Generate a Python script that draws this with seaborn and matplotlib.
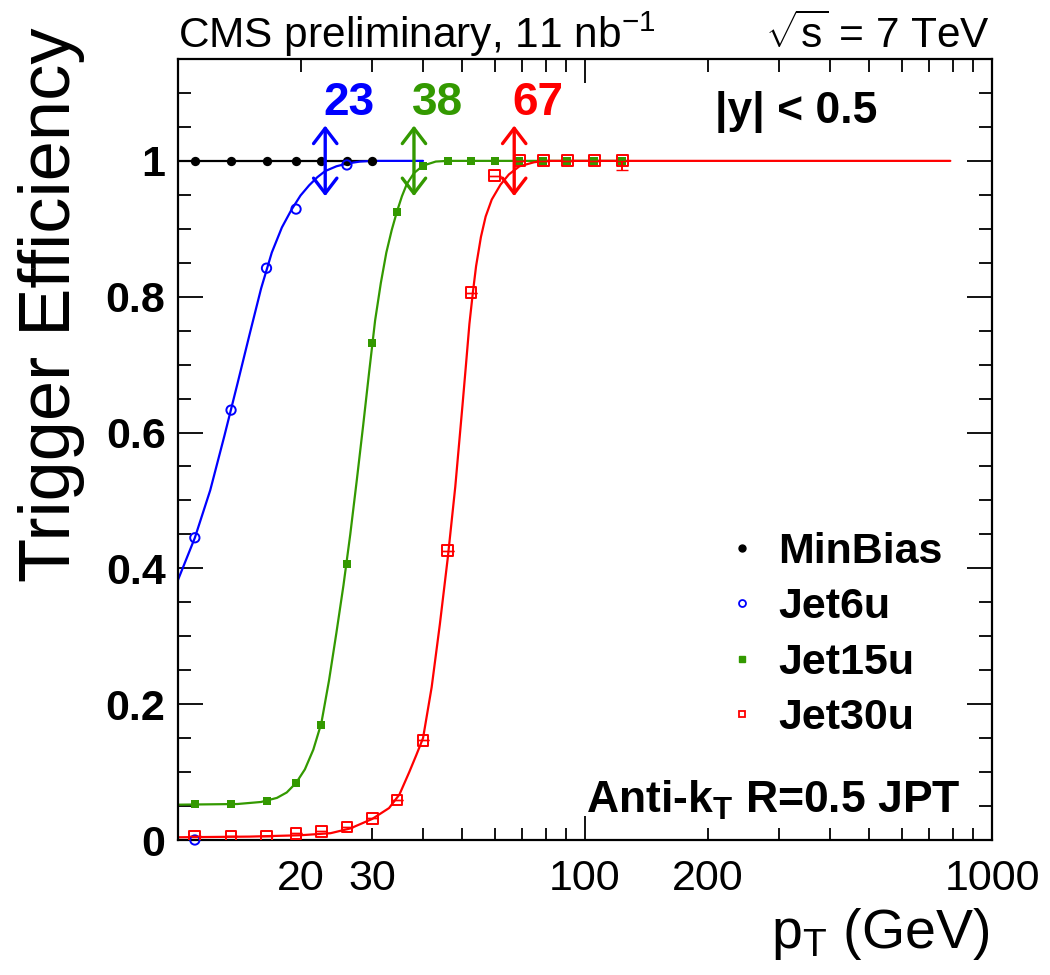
import matplotlib
matplotlib.use('Agg')
import matplotlib.pyplot as plt
from matplotlib.lines import Line2D
import seaborn as sns

# values
pt_bins = [11, 13.5, 16.5, 19.5, 22.5, 26, 30, 34.5, 40, 46, 52.5, 60, 69, 79, 90.5, 105.5, 123.5]

minbias_pt = [11, 13.5, 16.5, 19.5, 22.5, 26, 30]
minbias_eff = [1, 1, 1, 1, 1, 1, 1]

jet6u_pt = [11, 11, 13.5, 16.5, 19.5, 26]
jet6u_eff = [0.0, 0.445, 0.633, 0.842, 0.929, 0.994]

jet15u_pt = pt_bins
jet15u_eff = [0.053, 0.053, 0.057, 0.084, 0.169, 0.406, 0.732, 0.925, 0.993,
              1, 1, 1, 1, 1, 1, 1, 1]

jet30u_pt = pt_bins
jet30u_eff = [0.006, 0.006, 0.006, 0.010, 0.013, 0.019, 0.032, 0.059, 0.147,
              0.426, 0.806, 0.978, 1, 1, 1, 1, 1]
jet30u_err_lo = [0, 0, 0, 0, 0, 0, 0, 0, 0, 0, 0, 0, 0, 0, 0, 0, 0.014]
jet30u_err_hi = [0, 0, 0, 0, 0, 0, 0, 0, 0, 0, 0, 0, 0, 0, 0, 0, 0]

# fit curves
minbias_fit_pt = [10, 30]
minbias_fit_eff = [1, 1]

jet6u_fit_pt = [10.0, 11.0, 12.0, 13.0, 14.0, 15.0, 16.0, 17.0, 18.0, 19.0, 20.0, 21.0,
                22.0, 23.0, 24.5, 26.0, 28.0, 30.0, 40.0]
jet6u_fit_eff = [0.383, 0.445, 0.515, 0.595, 0.672, 0.745, 0.812, 0.865, 0.902, 0.928, 0.949,
                 0.964, 0.976, 0.985, 0.992, 0.996, 0.999, 1.0, 1.0]

jet15u_fit_pt = [10, 14, 16, 17.5, 18.5, 19.5, 20.5, 21.5, 22.5, 23.5, 24.5, 25.5, 26.5, 27.5,
                 28.5, 29.5, 30.5, 31.5, 32.5, 33.5, 34.5, 35.5, 36.5, 38, 40, 43, 46, 125]
jet15u_fit_eff = [0.052, 0.053, 0.056, 0.062, 0.070, 0.084, 0.104, 0.133, 0.172, 0.235, 0.305,
                  0.375, 0.45, 0.53, 0.61, 0.69, 0.765, 0.82, 0.865, 0.898, 0.925, 0.948,
                  0.966, 0.982, 0.993, 0.999, 1.0, 1.0]

jet30u_fit_pt = [10, 15, 20, 23.7, 26.5, 30, 33, 35, 37, 38.5, 40, 42, 44, 46, 48, 50, 51, 52,
                 53, 54, 55.5, 57, 59, 62, 65, 69, 75, 80, 790]
jet30u_fit_eff = [0.004, 0.005, 0.007, 0.010, 0.017, 0.031, 0.047, 0.067, 0.100, 0.125, 0.150,
                  0.225, 0.318, 0.415, 0.52, 0.64, 0.70, 0.76, 0.805, 0.845, 0.888, 0.918,
                  0.943, 0.965, 0.980, 0.992, 0.998, 1.0, 1.0]

thresholds = [23, 38, 67]
threshold_labels = ['23', '38', '67']

blue = '#0000ff'
green = '#339900'
red = '#ff0000'
threshold_colors = [blue, green, red]

sns.set_style('white')
plt.rcParams['font.family'] = ['Liberation Sans', 'DejaVu Sans']
plt.rcParams['mathtext.fontset'] = 'custom'
plt.rcParams['mathtext.rm'] = 'Liberation Sans'
plt.rcParams['mathtext.bf'] = 'Liberation Sans:bold'
plt.rcParams['mathtext.it'] = 'Liberation Sans:italic'
plt.rcParams['text.color'] = 'black'
plt.rcParams['xtick.color'] = 'black'
plt.rcParams['ytick.color'] = 'black'
plt.rcParams['axes.labelcolor'] = 'black'

fig, ax = plt.subplots(figsize=(10.5, 9.75), dpi=100)
fig.subplots_adjust(left=178/1050, right=992/1050, bottom=1-840/975, top=1-59/975)
ax.set_xscale('log')

# fit curves
sns.lineplot(x=minbias_fit_pt, y=minbias_fit_eff, color='black', lw=1.6, ax=ax)
sns.lineplot(x=jet6u_fit_pt, y=jet6u_fit_eff, color=blue, lw=1.6, sort=False, estimator=None, ax=ax)
sns.lineplot(x=jet15u_fit_pt, y=jet15u_fit_eff, color=green, lw=1.6, sort=False, estimator=None, ax=ax)
sns.lineplot(x=jet30u_fit_pt, y=jet30u_fit_eff, color=red, lw=1.6, sort=False, estimator=None, ax=ax)

# data points
sns.scatterplot(x=minbias_pt, y=minbias_eff, marker='o', s=45, color='black',
                edgecolor='black', linewidth=0, zorder=3, ax=ax)
sns.scatterplot(x=jet6u_pt, y=jet6u_eff, marker='o', s=45, facecolor='none',
                edgecolor=blue, linewidth=1.4, zorder=3, clip_on=False, ax=ax)
sns.scatterplot(x=jet15u_pt, y=jet15u_eff, marker='s', s=40, color=green,
                edgecolor=green, linewidth=0, zorder=3, ax=ax)
sns.scatterplot(x=jet30u_pt, y=jet30u_eff, marker='s', s=60, facecolor='none',
                edgecolor=red, linewidth=1.4, zorder=4, ax=ax)
ax.errorbar(jet30u_pt, jet30u_eff, yerr=[jet30u_err_lo, jet30u_err_hi], fmt='none',
            ecolor=red, elinewidth=1.4, capsize=4, zorder=4)

# threshold arrows
for thr, lab, col in zip(thresholds, threshold_labels, threshold_colors):
    ax.annotate('', xy=(thr, 0.948), xytext=(thr, 1.052),
                arrowprops=dict(arrowstyle='<->, head_length=0.55, head_width=0.42',
                                color=col, lw=2.4, shrinkA=0, shrinkB=0, mutation_scale=20),
                zorder=5)
    ax.text(thr * 0.99, 1.085, lab, color=col, fontsize=33, fontweight='bold',
            ha='left', va='center')

ax.set_xlim(10, 1000)
ax.set_ylim(0, 1.15)

ax.set_xticks([10, 100, 1000], labels=['', '100', '1000'])
minor_x = [20, 30, 40, 50, 60, 70, 80, 90, 200, 300, 400, 500, 600, 700, 800, 900]
minor_lab = ['20', '30', '', '', '', '', '', '', '200', '', '', '', '', '', '', '']
ax.set_xticks(minor_x, labels=minor_lab, minor=True)
ax.set_yticks([0, 0.2, 0.4, 0.6, 0.8, 1.0], labels=['0', '0.2', '0.4', '0.6', '0.8', '1'])
ax.set_yticks([i * 0.05 for i in range(23)], minor=True)

ax.tick_params(which='both', direction='in', top=True, right=True, bottom=True, left=True,
               width=1.3, colors='black')
ax.tick_params(axis='x', which='major', length=17, pad=14, labelsize=31)
ax.tick_params(axis='x', which='minor', length=9, pad=14, labelsize=31)
ax.tick_params(axis='y', which='major', length=18, pad=9, labelsize=31)
ax.tick_params(axis='y', which='minor', length=9.5)
for lab in ax.get_yticklabels():
    lab.set_fontweight('bold')
for sp in ax.spines.values():
    sp.set_linewidth(1.6)
    sp.set_color('black')

ax.set_xlabel('')
ax.set_ylabel('')
fig.text(52/1050, 1-28/975, 'Trigger Efficiency', rotation=90, ha='center', va='top', fontsize=52)
fig.text(990/1050, 1-948/975, r'p$_\mathrm{T}$ (GeV)', ha='right', va='baseline', fontsize=40)

fig.text(178/1050, 1-48/975, r'CMS preliminary, 11 nb$^{-1}$', ha='left', va='baseline', fontsize=30.5)
fig.text(990/1050, 1-48/975, r'$\sqrt{\mathrm{s}}$ = 7 TeV', ha='right', va='baseline', fontsize=30.5)

ax.text(0.66, 0.932, '|y| < 0.5', transform=ax.transAxes, ha='left', va='center',
        fontsize=32, fontweight='bold')
ax.text(0.961, 0.051, r'Anti-k$_\mathbf{T}$ R=0.5 JPT', transform=ax.transAxes,
        ha='right', va='center', fontsize=32, fontweight='bold')

handles = [
    Line2D([], [], ls='', marker='o', markersize=5, color='black'),
    Line2D([], [], ls='', marker='o', markersize=5, markerfacecolor='none',
           markeredgecolor=blue, markeredgewidth=1.3),
    Line2D([], [], ls='', marker='s', markersize=5, color=green),
    Line2D([], [], ls='', marker='s', markersize=5, markerfacecolor='none',
           markeredgecolor=red, markeredgewidth=1.3),
]
labels = ['MinBias', 'Jet6u', 'Jet15u', 'Jet30u']
ax.legend(handles, labels, loc='center left', bbox_to_anchor=(0.677, 0.2625),
          frameon=False, borderpad=0, borderaxespad=0, handlelength=0.6,
          handletextpad=0.55, labelspacing=0.36, prop={'size': 31, 'weight': 'bold'})

fig.savefig('out.png', dpi=100, facecolor='white')
